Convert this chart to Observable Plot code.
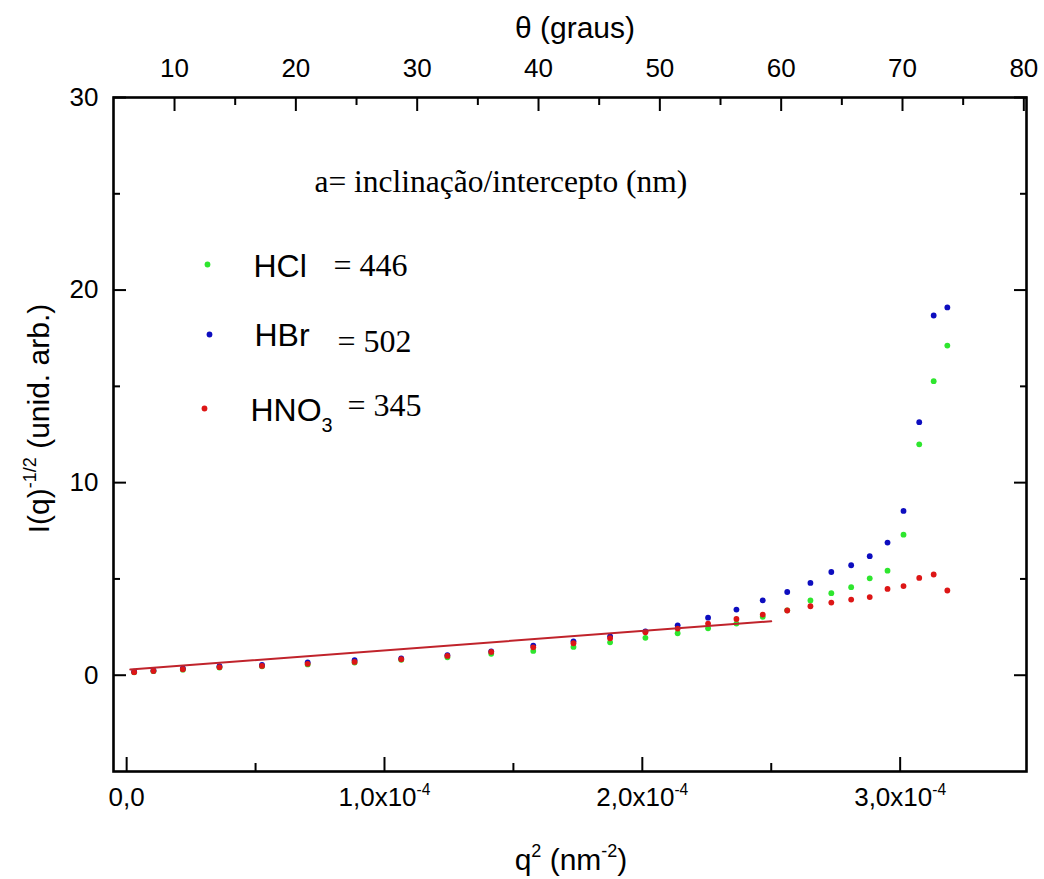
<!DOCTYPE html>
<html>
<head>
<meta charset="utf-8">
<script src="https://cdn.jsdelivr.net/npm/d3@7"></script>
<script src="https://cdn.jsdelivr.net/npm/@observablehq/plot@0.6"></script>
<style>
  body { margin: 0; background: #fff; }
  #chart svg { display: block; }
</style>
</head>
<body>
<div id="chart"></div>
<script>
// ---- data ----
const q2 = [0.029e-4, 0.104e-4, 0.218e-4, 0.360e-4, 0.525e-4, 0.702e-4, 0.884e-4,
            1.065e-4, 1.244e-4, 1.414e-4, 1.577e-4, 1.733e-4, 1.875e-4, 2.012e-4,
            2.137e-4, 2.255e-4, 2.365e-4, 2.467e-4, 2.562e-4, 2.652e-4, 2.733e-4,
            2.810e-4, 2.882e-4, 2.951e-4, 3.013e-4, 3.074e-4, 3.130e-4, 3.183e-4];
const hcl  = [0.15, 0.21, 0.29, 0.40, 0.46, 0.56, 0.66, 0.80, 0.93, 1.11, 1.26, 1.47, 1.71, 1.94,
              2.18, 2.44, 2.68, 3.03, 3.37, 3.88, 4.26, 4.57, 5.03, 5.43, 7.30, 11.99, 15.27, 17.12];
const hbr  = [0.19, 0.25, 0.35, 0.47, 0.53, 0.67, 0.78, 0.87, 1.04, 1.24, 1.54, 1.76, 2.02, 2.28,
              2.59, 2.99, 3.41, 3.89, 4.32, 4.79, 5.36, 5.71, 6.18, 6.89, 8.53, 13.14, 18.68, 19.10];
const hno3 = [0.16, 0.22, 0.31, 0.42, 0.48, 0.59, 0.69, 0.83, 1.00, 1.21, 1.45, 1.66, 1.92, 2.23,
              2.42, 2.68, 2.92, 3.15, 3.36, 3.58, 3.77, 3.93, 4.06, 4.48, 4.63, 5.05, 5.23, 4.40];
// linear fit (HNO3 region)
const fitQ2 = [0.014e-4, 2.50e-4];
const fitI  = [0.30, 2.80];

const seriesNames  = ["HCl", "HBr", "HNO_{3}"];
const seriesValues = ["= 446", "= 502", "= 345"];
const legendTitle  = "a= inclinação/intercepto (nm)";

const xMajorTicks = [0, 1e-4, 2e-4, 3e-4];
const xTickLabels = ["0,0", "1,0x10^{-4}", "2,0x10^{-4}", "3,0x10^{-4}"];
const xMinorTicks = [0.5e-4, 1.5e-4, 2.5e-4];
const yMajorTicks = [0, 10, 20, 30];
const yMinorTicks = [5, 15, 25];
const thetaMajor  = [10, 20, 30, 40, 50, 60, 70, 80];
const thetaMinor  = [15, 25, 35, 45, 55, 65, 75];

// ---- scales / style ----
const xDomain = [-0.051e-4, 3.49e-4];
const yDomain = [-5, 30];
const thetaDomain = [4.97, 80.22];
const toX = t => xDomain[0] + (t - thetaDomain[0]) / (thetaDomain[1] - thetaDomain[0]) * (xDomain[1] - xDomain[0]);

const GREEN = "#2ee62e", BLUE = "#0d0dbf", RED = "#dd1616", FIT = "#c0232b";
const SANS = "'Liberation Sans', Arial, sans-serif";
const SERIF = "'Liberation Serif', 'Times New Roman', serif";

const rows = (vals) => q2.map((q, i) => ({q, v: vals[i]}));
const fitRows = fitQ2.map((q, i) => ({q, v: fitI[i]}));
const xLabelMap = new Map(xMajorTicks.map((t, i) => [t, xTickLabels[i]]));
const thetaMap = new Map(thetaMajor.map(t => [toX(t), String(t)]));

const plot = Plot.plot({
  width: 1044,
  height: 879,
  marginLeft: 113,
  marginRight: 18,
  marginTop: 97,
  marginBottom: 108,
  style: {fontFamily: SANS, fontSize: "26px", color: "#000", background: "#fff"},
  x: {domain: xDomain, label: null},
  y: {domain: yDomain, label: null},
  marks: [
    // tick labels
    Plot.axisX({anchor: "bottom", ticks: xMajorTicks, tickSize: 0, tickPadding: 16,
                tickFormat: d => xLabelMap.get(d), label: null, fontSize: 26}),
    Plot.axisX({anchor: "top", ticks: thetaMajor.map(toX), tickSize: 0, tickPadding: 21,
                tickFormat: d => thetaMap.get(d), label: null, fontSize: 26}),
    Plot.axisY({anchor: "left", ticks: yMajorTicks, tickSize: 0, tickPadding: 15,
                tickFormat: d => String(d), label: null, fontSize: 26}),
    // inward ticks
    Plot.axisX({anchor: "bottom", ticks: xMajorTicks, tickSize: -14, fill: "none", strokeWidth: 2, label: null}),
    Plot.axisX({anchor: "bottom", ticks: xMinorTicks, tickSize: -8, fill: "none", strokeWidth: 2, label: null}),
    Plot.axisX({anchor: "top", ticks: thetaMajor.map(toX), tickSize: -13, fill: "none", strokeWidth: 2, label: null}),
    Plot.axisX({anchor: "top", ticks: thetaMinor.map(toX), tickSize: -7, fill: "none", strokeWidth: 2, label: null}),
    Plot.axisY({anchor: "left", ticks: yMajorTicks, tickSize: -13, fill: "none", strokeWidth: 2, label: null}),
    Plot.axisY({anchor: "left", ticks: yMinorTicks, tickSize: -7, fill: "none", strokeWidth: 2, label: null}),
    Plot.axisY({anchor: "right", ticks: yMajorTicks, tickSize: -13, fill: "none", strokeWidth: 2, label: null}),
    Plot.axisY({anchor: "right", ticks: yMinorTicks, tickSize: -7, fill: "none", strokeWidth: 2, label: null}),
    Plot.frame({stroke: "#000", strokeWidth: 2.6}),
    // data
    Plot.dot(rows(hcl),  {x: "q", y: "v", r: 2.9, fill: GREEN}),
    Plot.dot(rows(hbr),  {x: "q", y: "v", r: 2.9, fill: BLUE}),
    Plot.dot(rows(hno3), {x: "q", y: "v", r: 2.9, fill: RED}),
    Plot.line(fitRows, {x: "q", y: "v", stroke: FIT, strokeWidth: 2}),
    // axis titles
    Plot.text(["θ (graus)"], {frameAnchor: "top", dx: 5, dy: -60, lineAnchor: "bottom", fontSize: 30}),
    Plot.text(["q^{2} (nm^{-2})"], {frameAnchor: "bottom", dx: 1, dy: 98, lineAnchor: "bottom", fontSize: 30}),
    Plot.text(["I(q)^{-1/2} (unid. arb.)"], {frameAnchor: "left", dx: -65, dy: -16, rotate: -90, textAnchor: "middle", lineAnchor: "bottom", fontSize: 30}),
    // legend
    Plot.text([legendTitle], {frameAnchor: "top-left", dx: 201, dy: 94, textAnchor: "start", lineAnchor: "bottom", fontFamily: SERIF, fontSize: 31.5}),
    Plot.dot([0], {x: null, y: null, frameAnchor: "top-left", dx: 94, dy: 167, r: 2.9, fill: GREEN}),
    Plot.dot([0], {x: null, y: null, frameAnchor: "top-left", dx: 96, dy: 237, r: 2.9, fill: BLUE}),
    Plot.dot([0], {x: null, y: null, frameAnchor: "top-left", dx: 91, dy: 311, r: 2.9, fill: RED}),
    Plot.text([seriesNames[0]], {frameAnchor: "top-left", dx: 140, dy: 179, textAnchor: "start", lineAnchor: "bottom", fontSize: 32}),
    Plot.text([seriesNames[1]], {frameAnchor: "top-left", dx: 141, dy: 248, textAnchor: "start", lineAnchor: "bottom", fontSize: 32}),
    Plot.text([seriesNames[2]], {frameAnchor: "top-left", dx: 137, dy: 323, textAnchor: "start", lineAnchor: "bottom", fontSize: 32}),
    Plot.text([seriesValues[0]], {frameAnchor: "top-left", dx: 220, dy: 178, textAnchor: "start", lineAnchor: "bottom", fontFamily: SERIF, fontSize: 32}),
    Plot.text([seriesValues[1]], {frameAnchor: "top-left", dx: 224, dy: 254, textAnchor: "start", lineAnchor: "bottom", fontFamily: SERIF, fontSize: 32}),
    Plot.text([seriesValues[2]], {frameAnchor: "top-left", dx: 234, dy: 318, textAnchor: "start", lineAnchor: "bottom", fontFamily: SERIF, fontSize: 32})
  ]
});

document.getElementById("chart").appendChild(plot);

// superscript / subscript markup: ^{..} and _{..}
function richText(el) {
  const s = el.textContent;
  if (!/[\^_]\{/.test(s)) return;
  const fs = parseFloat(getComputedStyle(el).fontSize) || 26;
  while (el.firstChild) el.removeChild(el.firstChild);
  const re = /([\^_])\{([^}]*)\}/g;
  let last = 0, m, cur = 0;
  const add = (t, shift, scale) => {
    const ts = document.createElementNS("http://www.w3.org/2000/svg", "tspan");
    const dy = shift - cur; cur = shift;
    if (dy) ts.setAttribute("dy", dy + "px");
    if (scale) ts.setAttribute("font-size", (scale * fs) + "px");
    ts.textContent = t;
    el.appendChild(ts);
  };
  while ((m = re.exec(s))) {
    if (m.index > last) add(s.slice(last, m.index), 0, 0);
    if (m[1] === "^") add(m[2], -0.42 * fs, 0.6);
    else add(m[2], 0.36 * fs, 0.62);
    last = re.lastIndex;
  }
  if (last < s.length) add(s.slice(last), 0, 0);
}
plot.querySelectorAll("text").forEach(richText);
</script>
</body>
</html>
